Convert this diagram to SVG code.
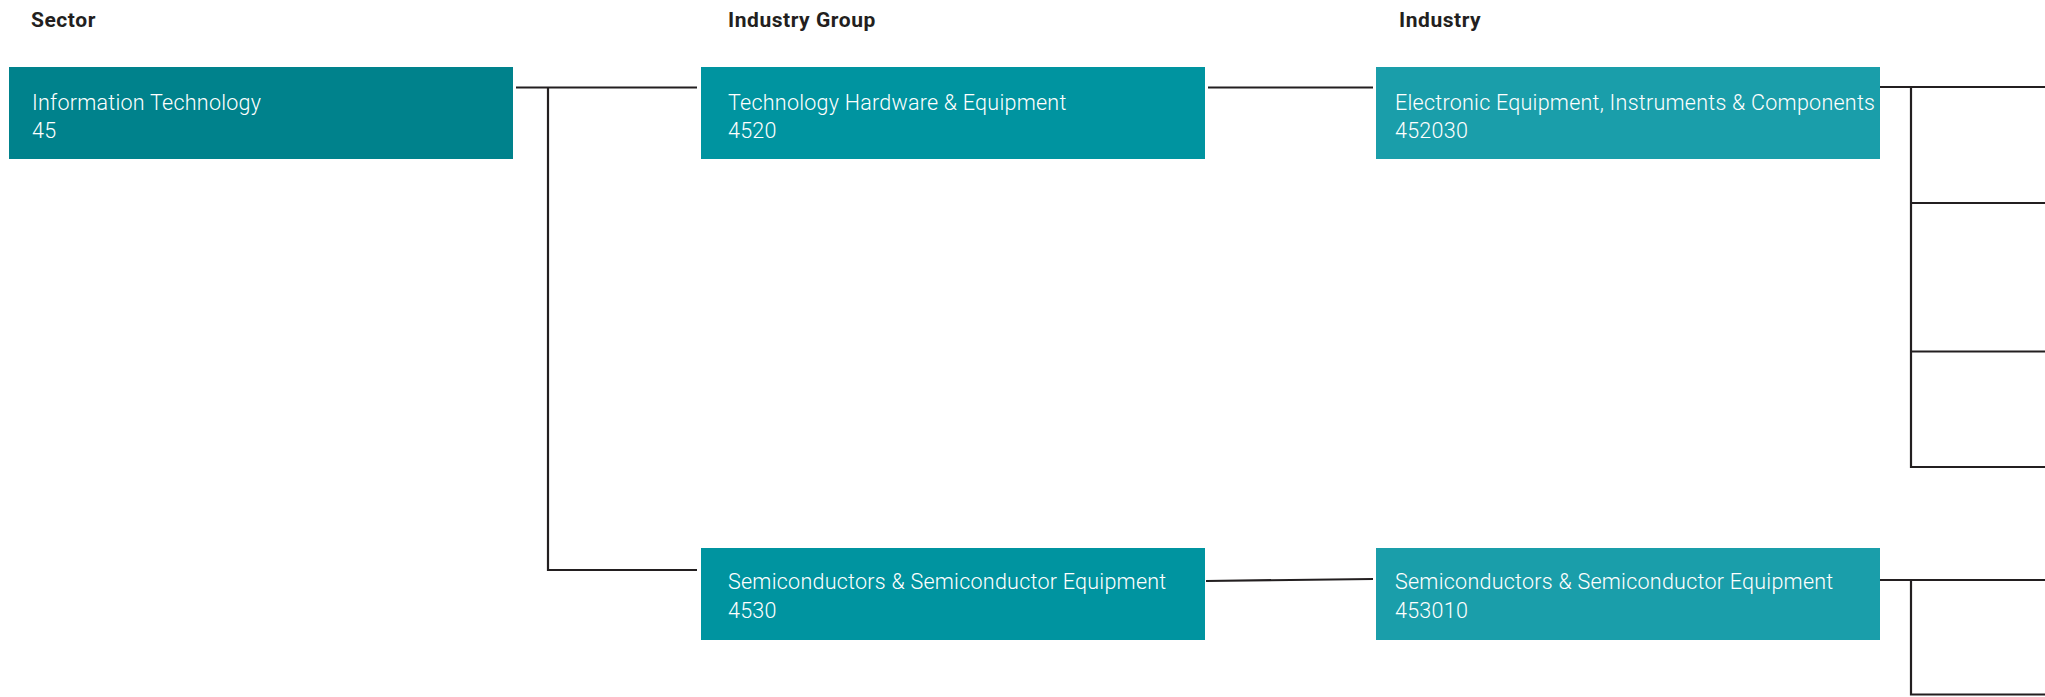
<svg xmlns="http://www.w3.org/2000/svg" width="2045" height="697" viewBox="0 0 2045 697">
<style>
.hdr{font-family:Roboto,"Liberation Sans",sans-serif;font-weight:bold;font-size:21px;letter-spacing:0.55px;fill:#231F20}
.lbl{font-family:Roboto,"Liberation Sans",sans-serif;font-weight:300;font-size:21.5px;letter-spacing:0.25px;fill:#FFFFFF}
.c1{fill:#00828C}
.c2{fill:#0094A0}
.c3{fill:#1A9EAA}
.ln{fill:none;stroke:#231F20;stroke-width:2.2}
</style>
<rect width="2045" height="697" fill="#FFFFFF"/>
<g id="headers">
<text class="hdr" x="31" y="27">Sector</text>
<text class="hdr" x="728" y="27">Industry Group</text>
<text class="hdr" x="1399" y="27">Industry</text>
</g>
<g id="connectors">
<path class="ln" d="M516 87.5H697M548 87.5V570H697"/>
<path class="ln" d="M1208 87.5H1373"/>
<path class="ln" d="M1206 581L1373 579"/>
<path class="ln" d="M1880 87H2045M1911 87V467H2045M1911 203H2045M1911 351.5H2045"/>
<path class="ln" d="M1880 580H2045M1911 580V694.5H2045"/>
</g>
<g id="node-45">
<rect class="c1" x="9" y="67" width="504" height="92"/>
<text class="lbl" x="32" y="110">Information Technology</text>
<text class="lbl" x="32" y="138">45</text>
</g>
<g id="node-4520">
<rect class="c2" x="701" y="67" width="504" height="92"/>
<text class="lbl" x="728" y="110">Technology Hardware &amp; Equipment</text>
<text class="lbl" x="728" y="138">4520</text>
</g>
<g id="node-452030">
<rect class="c3" x="1376" y="67" width="504" height="92"/>
<text class="lbl" x="1395" y="110">Electronic Equipment, Instruments &amp; Components</text>
<text class="lbl" x="1395" y="138">452030</text>
</g>
<g id="node-4530">
<rect class="c2" x="701" y="548" width="504" height="92"/>
<text class="lbl" x="728" y="589">Semiconductors &amp; Semiconductor Equipment</text>
<text class="lbl" x="728" y="618">4530</text>
</g>
<g id="node-453010">
<rect class="c3" x="1376" y="548" width="504" height="92"/>
<text class="lbl" x="1395" y="589">Semiconductors &amp; Semiconductor Equipment</text>
<text class="lbl" x="1395" y="618">453010</text>
</g>
</svg>
